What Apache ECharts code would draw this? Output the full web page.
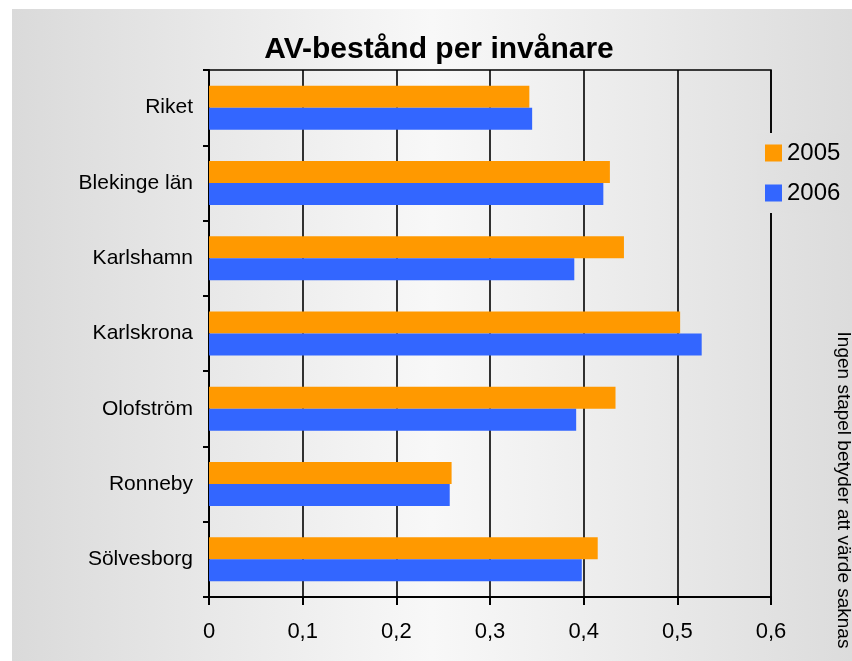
<!DOCTYPE html>
<html>
<head>
<meta charset="utf-8">
<script src="https://cdn.jsdelivr.net/npm/echarts@6/dist/echarts.min.js"></script>
<style>html,body{margin:0;padding:0;background:#fff}#c{width:852px;height:661px}</style>
</head>
<body>
<div id="c"></div>
<script>
const categories = ['Riket', 'Blekinge län', 'Karlshamn', 'Karlskrona', 'Olofström', 'Ronneby', 'Sölvesborg'];
const values2005 = [0.342, 0.428, 0.443, 0.503, 0.434, 0.259, 0.415];
const values2006 = [0.345, 0.421, 0.390, 0.526, 0.392, 0.257, 0.398];
const seriesNames = ['2005', '2006'];
const xTicks = { min: 0, max: 0.6, interval: 0.1 };

const chart = echarts.init(document.getElementById('c'), null, { renderer: 'canvas' });
const font = 'Liberation Sans, Arial, sans-serif';
chart.setOption({
  animation: false,
  textStyle: { fontFamily: font },
  graphic: [
    { type: 'rect', z: -100, silent: true, shape: { x: 12, y: 9, width: 840, height: 652 },
      style: { fill: new echarts.graphic.LinearGradient(0, 0, 1, 0, [
        { offset: 0, color: '#dadada' }, { offset: 0.5, color: '#f8f8f8' }, { offset: 1, color: '#dcdcdc' }]) } },
    { type: 'text', x: 843, y: 490, rotation: -Math.PI / 2, z: 10,
      style: { text: 'Ingen stapel betyder att värde saknas', fontSize: 19, fontFamily: font, fill: '#000', align: 'center', verticalAlign: 'middle' } }
  ],
  title: { text: 'AV-bestånd per invånare', left: 434, top: 30, textAlign: 'center',
    textStyle: { fontSize: 30, fontWeight: 'bold', color: '#000', fontFamily: font } },
  legend: { orient: 'vertical', left: 757, top: 133, padding: [8, 8, 8, 8],
    backgroundColor: new echarts.graphic.LinearGradient(0, 0, 1, 0, [{ offset: 0, color: '#e2e2e2' }, { offset: 1, color: '#dcdcdc' }]),
    itemWidth: 17, itemHeight: 17, itemGap: 16, icon: 'rect',
    textStyle: { fontSize: 24, color: '#000', fontFamily: font }, data: seriesNames },
  grid: { left: 209, right: 81, top: 70, bottom: 64, show: true, borderColor: '#000', borderWidth: 1.5, backgroundColor: 'transparent' },
  xAxis: { type: 'value', min: xTicks.min, max: xTicks.max, interval: xTicks.interval,
    axisLine: { show: true, lineStyle: { color: '#000', width: 2 } },
    axisTick: { show: true, length: 8, lineStyle: { color: '#000', width: 2 } },
    splitLine: { show: true, lineStyle: { color: '#000', width: 1.6 } },
    axisLabel: { fontSize: 22, color: '#000', margin: 24, formatter: v => String(Math.round(v * 10) / 10).replace('.', ',') } },
  yAxis: { type: 'category', data: categories, inverse: true,
    axisLine: { show: true, lineStyle: { color: '#000', width: 2 } },
    axisTick: { show: true, length: 6, lineStyle: { color: '#000', width: 2 } },
    axisLabel: { fontSize: 21, color: '#000', margin: 16 } },
  series: [
    { name: seriesNames[0], type: 'bar', data: values2005, barWidth: 22, barGap: 0, itemStyle: { color: '#ff9900' } },
    { name: seriesNames[1], type: 'bar', data: values2006, barWidth: 22, barGap: 0, itemStyle: { color: '#3366ff' } }
  ]
});
</script>
</body>
</html>
